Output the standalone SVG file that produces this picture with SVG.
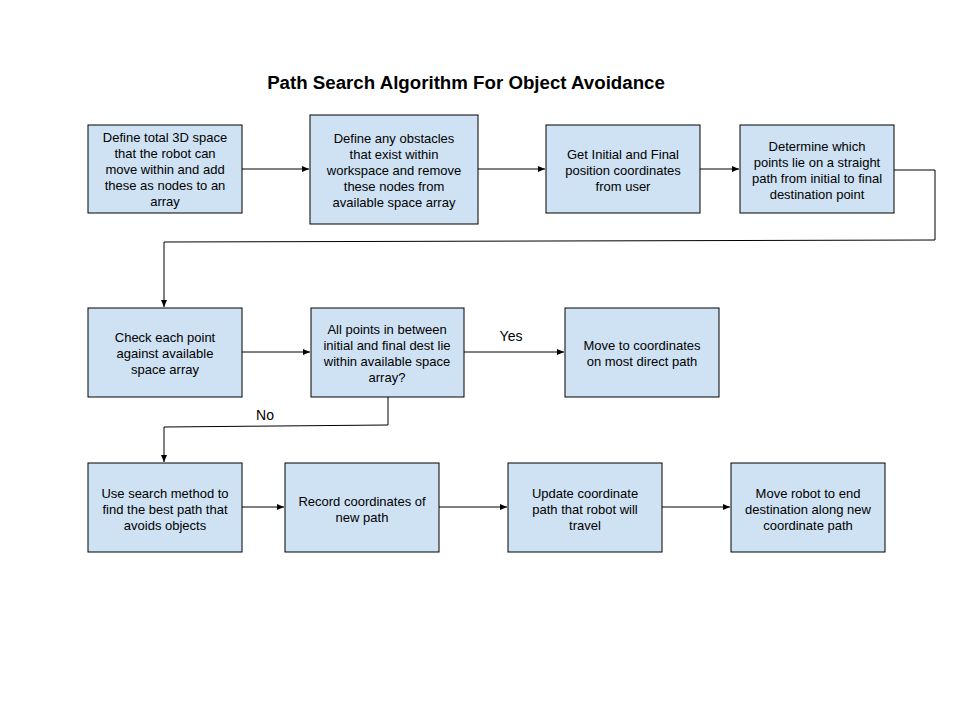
<svg xmlns="http://www.w3.org/2000/svg" width="960" height="720" viewBox="0 0 960 720">
<style>
.box{fill:#cfe2f3;stroke:#000;stroke-width:1}
.t{font-family:"Liberation Sans",Arial,sans-serif;font-size:13px;fill:#000;text-anchor:middle}
.lbl{font-family:"Liberation Sans",Arial,sans-serif;font-size:14px;fill:#000;text-anchor:middle}
.title{font-family:"Liberation Sans",Arial,sans-serif;font-size:18.7px;font-weight:bold;fill:#000;text-anchor:middle}
.c{fill:none;stroke:#000;stroke-width:1}
</style>
<defs>
<marker id="ah" markerWidth="8" markerHeight="6" refX="7" refY="3" orient="auto" markerUnits="userSpaceOnUse">
<path d="M0,0 L7,3 L0,6 z" fill="#000"/>
</marker>
</defs>
<rect width="960" height="720" fill="#fff"/>
<text class="title" x="466" y="89">Path Search Algorithm For Object Avoidance</text>
<g id="connectors">
<path class="c" d="M242,169 H309" marker-end="url(#ah)"/>
<path class="c" d="M478,169 H545" marker-end="url(#ah)"/>
<path class="c" d="M700,169 H739" marker-end="url(#ah)"/>
<path class="c" d="M894,170 H935 V240 L164,242 V307" marker-end="url(#ah)"/>
<path class="c" d="M242,352 H310" marker-end="url(#ah)"/>
<path class="c" d="M464,352 H564" marker-end="url(#ah)"/>
<path class="c" d="M388,397 V425 L164,427 V462" marker-end="url(#ah)"/>
<path class="c" d="M242,507 H284" marker-end="url(#ah)"/>
<path class="c" d="M439,507 H507" marker-end="url(#ah)"/>
<path class="c" d="M662,507 H730" marker-end="url(#ah)"/>
<text class="lbl" x="511" y="341">Yes</text>
<text class="lbl" x="265" y="420">No</text>
</g>
<g id="n1"><rect class="box" x="88" y="125" width="154" height="88"/>
<text class="t" x="165"><tspan x="165" y="142">Define total 3D space</tspan><tspan x="165" y="158">that the robot can</tspan><tspan x="165" y="174">move within and add</tspan><tspan x="165" y="190">these as nodes to an</tspan><tspan x="165" y="206">array</tspan></text></g>
<g id="n2"><rect class="box" x="310" y="115" width="168" height="109"/>
<text class="t" x="394"><tspan x="394" y="143">Define any obstacles</tspan><tspan x="394" y="159">that exist within</tspan><tspan x="394" y="175">workspace and remove</tspan><tspan x="394" y="191">these nodes from</tspan><tspan x="394" y="207">available space array</tspan></text></g>
<g id="n3"><rect class="box" x="546" y="125" width="154" height="88"/>
<text class="t" x="623"><tspan x="623" y="159">Get Initial and Final</tspan><tspan x="623" y="175">position coordinates</tspan><tspan x="623" y="191">from user</tspan></text></g>
<g id="n4"><rect class="box" x="740" y="125" width="154" height="88"/>
<text class="t" x="817"><tspan x="817" y="151">Determine which</tspan><tspan x="817" y="167">points lie on a straight</tspan><tspan x="817" y="183">path from initial to final</tspan><tspan x="817" y="199">destination point</tspan></text></g>
<g id="n5"><rect class="box" x="88" y="308" width="154" height="89"/>
<text class="t" x="165"><tspan x="165" y="342">Check each point</tspan><tspan x="165" y="358">against available</tspan><tspan x="165" y="374">space array</tspan></text></g>
<g id="n6"><rect class="box" x="311" y="308" width="153" height="89"/>
<text class="t" x="387"><tspan x="387" y="334">All points in between</tspan><tspan x="387" y="350">initial and final dest lie</tspan><tspan x="387" y="366">within available space</tspan><tspan x="387" y="382">array?</tspan></text></g>
<g id="n7"><rect class="box" x="565" y="308" width="154" height="89"/>
<text class="t" x="642"><tspan x="642" y="350">Move to coordinates</tspan><tspan x="642" y="366">on most direct path</tspan></text></g>
<g id="n8"><rect class="box" x="88" y="463" width="154" height="89"/>
<text class="t" x="165"><tspan x="165" y="498">Use search method to</tspan><tspan x="165" y="514">find the best path that</tspan><tspan x="165" y="530">avoids objects</tspan></text></g>
<g id="n9"><rect class="box" x="285" y="463" width="154" height="89"/>
<text class="t" x="362"><tspan x="362" y="506">Record coordinates of</tspan><tspan x="362" y="522">new path</tspan></text></g>
<g id="n10"><rect class="box" x="508" y="463" width="154" height="89"/>
<text class="t" x="585"><tspan x="585" y="498">Update coordinate</tspan><tspan x="585" y="514">path that robot will</tspan><tspan x="585" y="530">travel</tspan></text></g>
<g id="n11"><rect class="box" x="731" y="463" width="154" height="89"/>
<text class="t" x="808"><tspan x="808" y="498">Move robot to end</tspan><tspan x="808" y="514">destination along new</tspan><tspan x="808" y="530">coordinate path</tspan></text></g>
</svg>
